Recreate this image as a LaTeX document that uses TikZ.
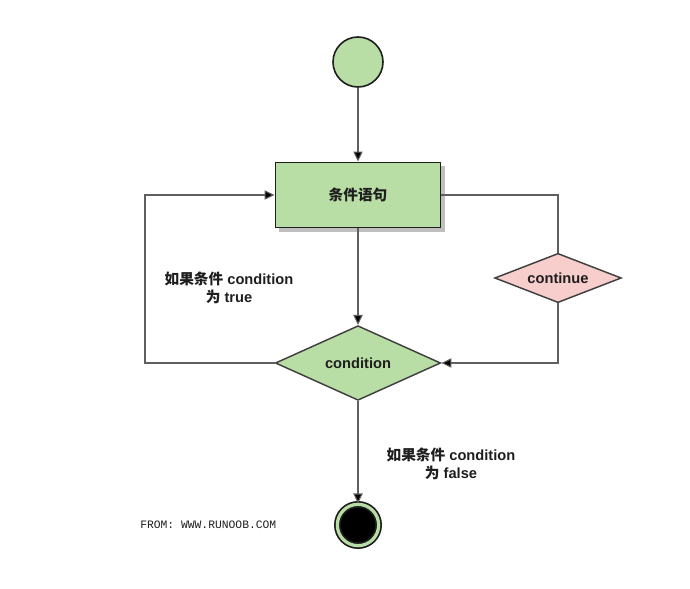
\documentclass[tikz,border=0pt]{standalone}
\usepackage{fontspec}
\setmainfont{Liberation Sans}
\setmonofont{Liberation Mono}
\newfontfamily\cjk{Noto Sans CJK SC}
\usepackage{tikz}
\usetikzlibrary{arrows.meta, shapes.geometric, shadows}

\definecolor{flowgreen}{RGB}{185,222,165}
\definecolor{flowpink}{RGB}{248,206,204}
\definecolor{flowline}{RGB}{95,95,95}
\definecolor{flowedge}{RGB}{30,30,30}

\begin{document}
\begin{tikzpicture}[
    x=0.75pt, y=-0.75pt,
    every node/.style={font=\fontsize{11}{13}\selectfont\bfseries, text=flowedge},
    startnode/.style={circle, draw=flowedge, line width=1.2pt, fill=flowgreen, minimum size=37.5pt, inner sep=0pt},
    stopnode/.style={circle, draw=flowedge, double=flowgreen, double distance=2.4pt, line width=1.3pt, fill=black, minimum size=31pt, inner sep=0pt},
    stmt/.style={rectangle, draw=flowedge, line width=1.2pt, fill=flowgreen, minimum width=124pt, minimum height=49pt, inner sep=0pt,
        drop shadow={shadow xshift=3pt, shadow yshift=-3pt, fill=gray!50, opacity=1}},
    test/.style={diamond, aspect=2.2, draw=flowedge!85, line width=1.1pt, fill=flowgreen, minimum width=124pt, minimum height=56pt, inner sep=0pt},
    skip/.style={diamond, aspect=2.6, draw=flowedge!85, line width=1.1pt, fill=flowpink, minimum width=95pt, minimum height=37pt, inner sep=0pt},
    note/.style={align=center, inner sep=0pt},
    conn/.style={draw=flowline, line width=0.8pt, -{Triangle[length=7.5pt, width=7pt, fill=black]}},
    plain/.style={draw=flowline, line width=0.8pt}
]
    \useasboundingbox (0,0) rectangle (690,589);
    % Nodes
    \node[startnode] (begin) at (358, 62) {};
    \node[stmt] (body) at (358, 195) {\cjk 条件语句};
    \node[test] (cond) at (358, 363) {condition};
    \node[skip] (cont) at (558, 278) {continue};
    \node[stopnode] (finish) at (358, 525) {};
    \coordinate (loopL) at (145, 195);
    % Connections
    \draw[conn] (begin) -- (body.north);
    \draw[conn] (body.south) -- (cond.north);
    \draw[conn] (cond.south) -- (finish.north);
    \draw[conn] (cond.west) -| (loopL) -- (body.west);
    \draw[plain] (body.east) -| (cont.north);
    \draw[conn] (cont.south) |- (cond.east);
    % Labels
    \node[note] (yes) at (229, 288) {{\cjk 如果条件} condition\\{\cjk 为} true};
    \node[note] (no) at (451, 464) {{\cjk 如果条件} condition\\{\cjk 为} false};
    \node[anchor=west, inner sep=0pt, font=\fontsize{8.5}{10}\selectfont\ttfamily] (src) at (140, 525) {FROM: WWW.RUNOOB.COM};
\end{tikzpicture}
\end{document}
